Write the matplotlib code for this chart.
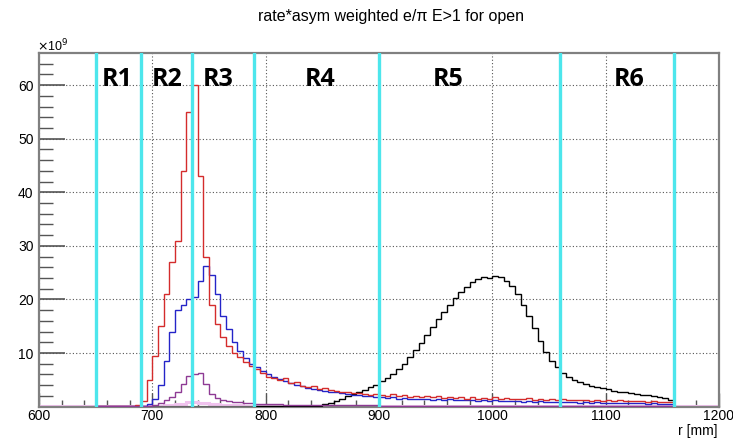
import matplotlib

matplotlib.use("Agg")

import matplotlib.pyplot as plt
import numpy as np

plt.rcParams["font.family"] = ["Liberation Sans", "DejaVu Sans"]

# 5 mm bins from 650 to 1160 mm, values in units of 1e9
bin_edges = np.arange(650, 1165, 5)

red_vals = [
    0.10, 0.10, 0.15, 0.10, 0.20, 0.15, 0.20, 0.30, 1.0, 5.0,
    9.5, 15.0, 21.0, 27.0, 31.0, 44.0, 55.0, 60.0, 43.0, 28.0,
    19.0, 15.5, 13.0, 11.3, 10.0, 9.2, 8.3, 7.6, 7.0, 6.2,
    5.6, 5.4, 5.0, 5.3, 4.4, 4.6, 3.9, 3.7, 3.8, 3.2,
    3.4, 3.1, 2.9, 2.8, 2.7, 2.5, 2.6, 2.3, 2.2, 2.4,
    2.2, 2.0, 2.3, 1.9, 2.1, 1.8, 2.0, 1.8, 1.9, 1.7,
    1.9, 1.6, 1.8, 1.6, 1.7, 1.5, 1.8, 1.5, 1.6, 1.4,
    1.7, 1.5, 1.6, 1.4, 1.5, 1.4, 1.6, 1.3, 1.5, 1.3,
    1.4, 1.2, 1.4, 1.2, 1.3, 1.2, 1.3, 1.1, 1.3, 1.1,
    1.2, 1.1, 1.2, 1.0, 1.1, 1.0, 1.1, 0.9, 1.0, 0.9,
    0.9, 0.8,
]

blue_vals = [
    0.10, 0.10, 0.10, 0.15, 0.10, 0.15, 0.15, 0.20, 0.20, 0.40,
    1.5, 4.0, 8.5, 14.0, 18.0, 19.0, 20.0, 20.5, 23.5, 26.2,
    24.5, 21.0, 17.0, 14.5, 12.0, 10.3, 9.0, 8.0, 7.3, 6.6,
    6.0, 5.5, 5.1, 4.7, 4.4, 4.1, 3.8, 3.5, 3.3, 3.1,
    2.9, 2.8, 2.7, 2.5, 2.3, 2.2, 2.1, 2.0, 1.9, 1.8,
    1.7, 1.6, 1.7, 1.5, 1.6, 1.4, 1.5, 1.4, 1.5, 1.3,
    1.4, 1.3, 1.4, 1.2, 1.3, 1.2, 1.3, 1.1, 1.2, 1.1,
    1.2, 1.0, 1.1, 1.0, 1.1, 0.9, 1.0, 0.9, 1.0, 0.9,
    0.9, 0.8, 0.9, 0.8, 0.8, 0.7, 0.8, 0.7, 0.8, 0.7,
    0.7, 0.6, 0.7, 0.6, 0.6, 0.6, 0.6, 0.5, 0.6, 0.5,
    0.5, 0.5,
]

purple_vals = [
    0.05, 0.05, 0.05, 0.05, 0.05, 0.05, 0.05, 0.05, 0.08, 0.15,
    0.35, 0.70, 1.2, 1.8, 2.8, 4.2, 5.8, 6.0, 6.3, 4.2,
    2.3, 1.6, 1.3, 1.1, 0.95, 0.80, 0.70, 0.65, 0.55, 0.50,
    0.45, 0.42, 0.40, 0.38, 0.36, 0.34, 0.33, 0.32, 0.31, 0.30,
    0.30, 0.29, 0.28, 0.27, 0.26, 0.25, 0.24, 0.23, 0.22, 0.21,
    0.20, 0.20, 0.19, 0.19, 0.18, 0.18, 0.17, 0.17, 0.16, 0.16,
    0.15, 0.15, 0.15, 0.14, 0.14, 0.14, 0.13, 0.13, 0.13, 0.12,
    0.12, 0.12, 0.12, 0.11, 0.11, 0.11, 0.11, 0.11, 0.10, 0.10,
    0.10, 0.10, 0.10, 0.10, 0.10, 0.10, 0.10, 0.10, 0.10, 0.10,
    0.10, 0.10, 0.10, 0.10, 0.10, 0.10, 0.10, 0.10, 0.10, 0.10,
    0.10, 0.10,
]

black_vals = [
    0.0, 0.0, 0.0, 0.0, 0.0, 0.0, 0.0, 0.0, 0.0, 0.0,
    0.0, 0.0, 0.0, 0.0, 0.0, 0.0, 0.0, 0.0, 0.0, 0.0,
    0.0, 0.0, 0.0, 0.0, 0.0, 0.0, 0.0, 0.0, 0.05, 0.05,
    0.05, 0.05, 0.05, 0.05, 0.05, 0.05, 0.08, 0.08, 0.10, 0.20,
    0.40, 0.70, 1.1, 1.5, 1.9, 2.3, 2.7, 3.1, 3.6, 4.1,
    4.7, 5.4, 6.0, 7.0, 8.0, 9.2, 10.5, 11.8, 13.3, 14.9,
    16.3, 17.6, 19.0, 20.2, 21.3, 22.3, 23.2, 23.8, 24.1, 24.0,
    24.3, 24.2, 23.5, 22.6, 21.0, 19.0, 17.0, 14.6, 12.2, 10.2,
    8.6, 7.3, 6.3, 5.6, 5.0, 4.6, 4.2, 3.9, 3.6, 3.4,
    3.2, 3.0, 2.8, 2.7, 2.5, 2.4, 2.2, 2.1, 1.9, 1.7,
    1.6, 1.3,
]

# light magenta histogram over the full axis range, 10 mm bins
pink_edges = np.arange(600, 1210, 10)
pink_vals = [
    0.05, 0.05, 0.05, 0.05, 0.05, 0.05, 0.05, 0.05, 0.05, 0.10,
    0.20, 0.35, 0.55, 0.80, 0.75, 0.45, 0.30, 0.25, 0.20, 0.15,
    0.15, 0.12, 0.12, 0.10, 0.10, 0.10, 0.08, 0.08, 0.08, 0.08,
    0.06, 0.06, 0.06, 0.06, 0.06, 0.05, 0.05, 0.05, 0.05, 0.05,
    0.05, 0.05, 0.05, 0.05, 0.05, 0.05, 0.05, 0.05, 0.05, 0.05,
    0.05, 0.05, 0.05, 0.05, 0.05, 0.05, 0.05, 0.05, 0.05, 0.05,
]

region_bounds = [650, 690, 735, 790, 900, 1060, 1160]
region_names = ["R1", "R2", "R3", "R4", "R5", "R6"]
region_label_x = [669, 713, 758, 848, 961, 1121]


fig = plt.figure(figsize=(7.33, 4.38), dpi=100)
ax = fig.add_axes([0.0532, 0.0717, 0.9277, 0.8073])

ax.stairs(pink_vals, pink_edges, color="#f0c2ee", lw=2.2, zorder=2)
ax.stairs(black_vals, bin_edges, color="black", lw=1.0, zorder=3)
ax.stairs(blue_vals, bin_edges, color="#2424c8", lw=1.0, zorder=4)
ax.stairs(red_vals, bin_edges, color="#d42c2c", lw=1.0, zorder=5)
ax.stairs(purple_vals, bin_edges, color="#8e3a94", lw=1.0, zorder=6)

for xb in region_bounds:
    ax.axvline(xb, color="#4de6ec", lw=2.4, zorder=7)

for name, xl in zip(region_names, region_label_x):
    ax.text(xl, 61, name, ha="center", va="center", fontsize=18,
            fontweight="bold", family=["Open Sans", "DejaVu Sans"], zorder=8)

ax.set_xlim(600, 1200)
ax.set_ylim(0, 66)
ax.set_xticks([600, 700, 800, 900, 1000, 1100, 1200])
ax.set_xticks(np.arange(600, 1201, 20), minor=True)
ax.set_yticks([10, 20, 30, 40, 50, 60])
ax.set_yticks(np.arange(2, 66, 2), minor=True)
ax.tick_params(axis="both", which="both", direction="in", colors="#555555",
               labelcolor="black", labelsize=10)
ax.tick_params(axis="y", which="major", length=19, width=1.2, pad=4)
ax.tick_params(axis="y", which="minor", length=10, width=1.0)
ax.tick_params(axis="x", which="major", length=10, width=1.0, pad=2)
ax.tick_params(axis="x", which="minor", length=5, width=1.0)
ax.grid(True, which="major", linestyle=(0, (1, 2)), color="#555555", lw=0.8)

for side in ["left", "top", "right", "bottom"]:
    ax.spines[side].set_color("#808080")
    ax.spines[side].set_linewidth(1.6)

fig.text(0.533, 0.962, "rate*asym weighted e/\u03c0 E>1 for open",
         ha="center", va="center", fontsize=11.5)
fig.text(0.05, 0.895, r"$\times$10$^{9}$", ha="left", va="center", fontsize=9)
fig.text(0.979, 0.016, "r [mm]", ha="right", va="center", fontsize=10)

fig.savefig("out.png", dpi=100)
